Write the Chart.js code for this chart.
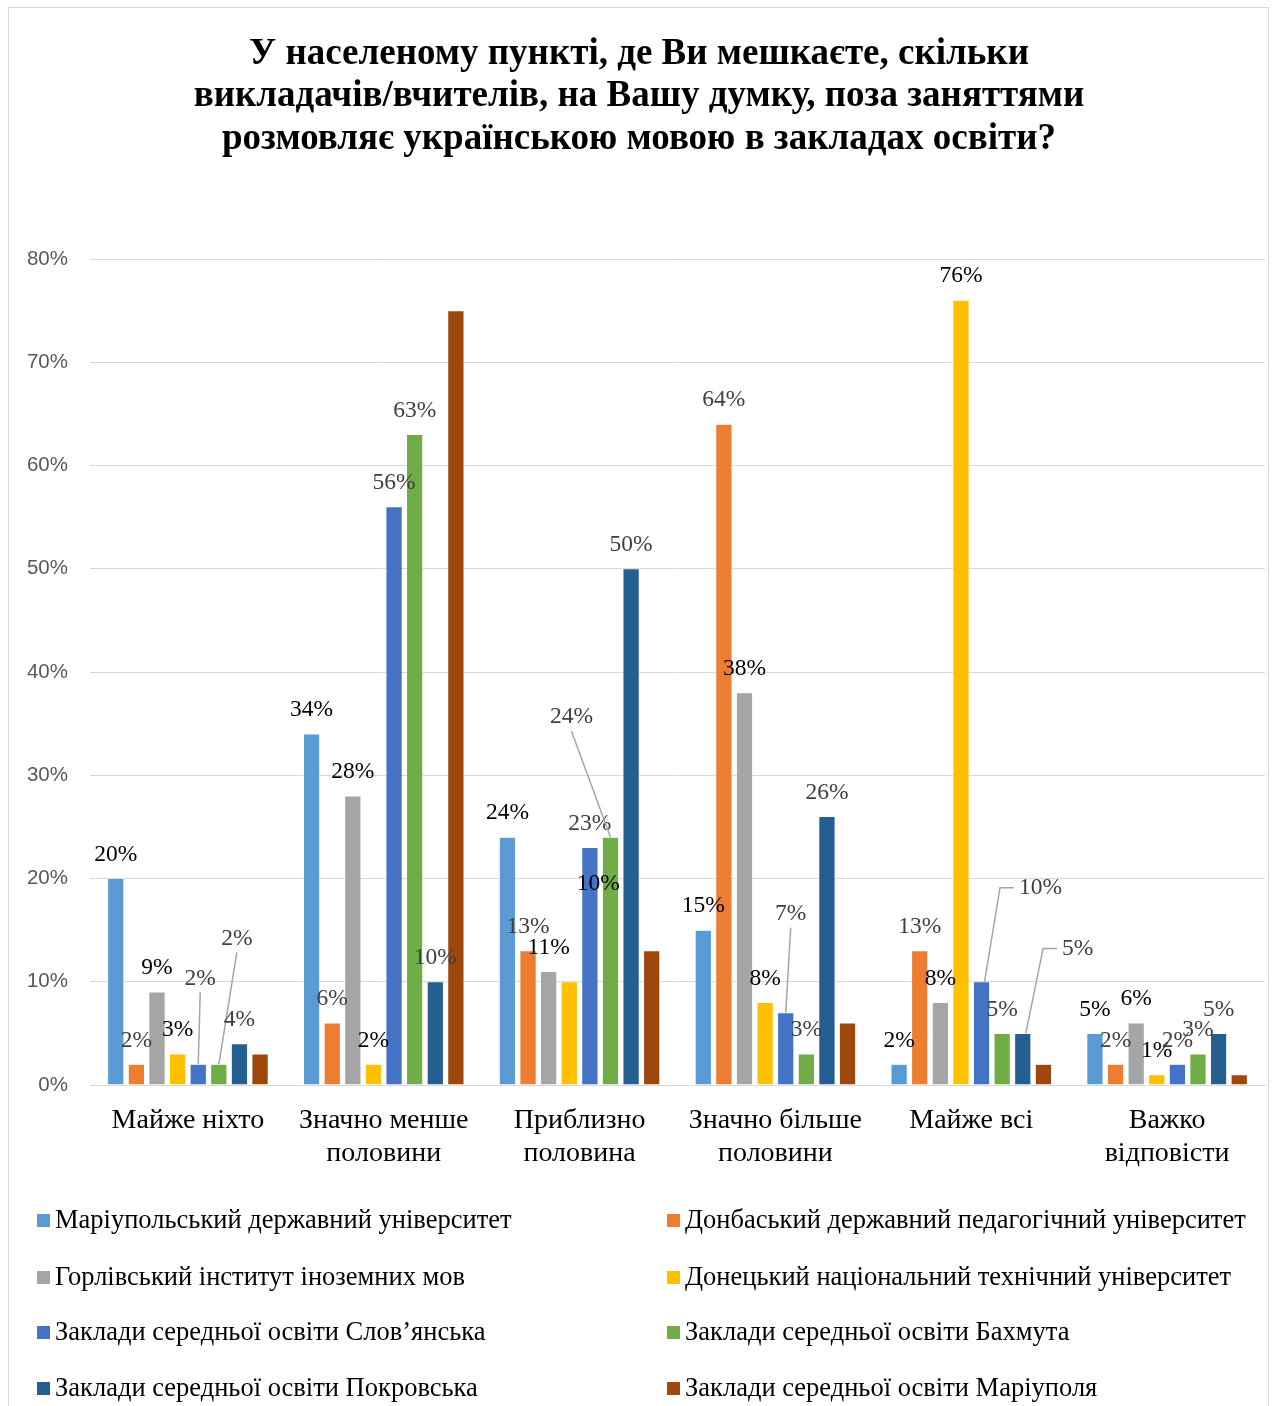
<!DOCTYPE html>
<html lang="uk">
<head>
<meta charset="utf-8">
<script src="https://cdn.jsdelivr.net/npm/chart.js@4/dist/chart.umd.min.js"></script>
<style>
  html, body { margin: 0; padding: 0; background: #fff; }
  #wrap { position: relative; width: 1275px; height: 1406px; }
</style>
</head>
<body>
<div id="wrap"><canvas id="c" width="1275" height="1406"></canvas></div>
<script>
// ---- DATA ----
const titleLines = [
  "У населеному пункті, де Ви мешкаєте, скільки",
  "викладачів/вчителів, на Вашу думку, поза заняттями",
  "розмовляє українською мовою в закладах освіти?"
];
const categories = [
  ["Майже ніхто"],
  ["Значно менше", "половини"],
  ["Приблизно", "половина"],
  ["Значно більше", "половини"],
  ["Майже всі"],
  ["Важко", "відповісти"]
];
const seriesNames = [
  "Маріупольський державний університет",
  "Донбаський державний педагогічний університет",
  "Горлівський інститут іноземних мов",
  "Донецький національний технічний університет",
  "Заклади середньої освіти Слов’янська",
  "Заклади середньої освіти Бахмута",
  "Заклади середньої освіти Покровська",
  "Заклади середньої освіти Маріуполя"
];
const mariupolUniversity   = [20, 34, 24, 15, 2, 5];
const donbasPedUniversity  = [2, 6, 13, 64, 13, 2];
const horlivkaInstitute    = [9, 28, 11, 38, 8, 6];
const donetskTechUniversity= [3, 2, 10, 8, 76, 1];
const sloviansk            = [2, 56, 23, 7, 10, 2];
const bakhmut              = [2, 63, 24, 3, 5, 3];
const pokrovsk             = [4, 10, 50, 26, 5, 5];
const mariupolSchools      = [3, 75, 13, 6, 2, 1];
const yTickValues = [0, 10, 20, 30, 40, 50, 60, 70, 80];

// ---- STYLE ----
const seriesData = [mariupolUniversity, donbasPedUniversity, horlivkaInstitute, donetskTechUniversity,
                    sloviansk, bakhmut, pokrovsk, mariupolSchools];
const colors = ["#5B9BD5", "#ED7D31", "#A5A5A5", "#FFC000", "#4472C4", "#70AD47", "#255E91", "#9E480E"];
const labelColors = ["#000000", "#404040", "#000000", "#000000", "#404040", "#404040", "#404040", null];
// moved data labels (pixel offsets from default spot) with leader lines, as in the original
const labelMoves = {
  "4-0": { dx: 2, dy: -62, leader: "line" },
  "5-0": { dx: 18, dy: -102, leader: "line" },
  "3-2": { dx: 29, dy: -74, leader: null },
  "5-2": { dx: -39, dy: -96, leader: "line" },
  "4-3": { dx: 5, dy: -75, leader: "line" },
  "4-4": { dx: 59, dy: -70, leader: "elbow" },
  "6-4": { dx: 55, dy: -61, leader: "elbow" }
};
const SERIF = "'Liberation Serif', 'DejaVu Serif', serif";
const SANS = "'Liberation Sans', Arial, sans-serif";

const decorPlugin = {
  id: "decor",
  beforeDraw(chart) {
    const ctx = chart.ctx;
    ctx.save();
    ctx.fillStyle = "#fff";
    ctx.fillRect(0, 0, chart.width, chart.height);
    ctx.strokeStyle = "#D9D9D9";
    ctx.lineWidth = 1;
    ctx.strokeRect(8.5, 7.5, 1260, 1430);
    // title
    ctx.fillStyle = "#000";
    ctx.font = "bold 37px " + SERIF;
    ctx.textAlign = "center";
    ctx.textBaseline = "middle";
    titleLines.forEach((t, i) => ctx.fillText(t, 639, 54 + i * 42.5));
    ctx.restore();
  },
  afterDatasetsDraw(chart) {
    const ctx = chart.ctx;
    ctx.save();
    ctx.font = "23.5px " + SERIF;
    ctx.textAlign = "center";
    ctx.textBaseline = "middle";
    chart.data.datasets.forEach((ds, i) => {
      if (!labelColors[i]) return;
      const meta = chart.getDatasetMeta(i);
      meta.data.forEach((bar, j) => {
        const txt = ds.data[j] + "%";
        let x = bar.x, y = bar.y - 24;
        const mv = labelMoves[i + "-" + j];
        if (mv) {
          x += mv.dx; y += mv.dy;
          ctx.strokeStyle = "#A5A5A5";
          ctx.lineWidth = 1.5;
          if (mv.leader === "line") {
            ctx.beginPath();
            ctx.moveTo(x, y + 14);
            ctx.lineTo(bar.x, bar.y);
            ctx.stroke();
          } else if (mv.leader === "elbow") {
            const tw = ctx.measureText(txt).width;
            ctx.beginPath();
            ctx.moveTo(x - tw / 2 - 5, y);
            ctx.lineTo(x - tw / 2 - 19, y);
            ctx.lineTo(bar.x + 3, bar.y);
            ctx.stroke();
          }
        }
        ctx.fillStyle = labelColors[i];
        ctx.fillText(txt, x, y);
      });
    });
    ctx.restore();
  },
  afterDraw(chart) {
    const ctx = chart.ctx;
    ctx.save();
    ctx.font = "26.5px " + SERIF;
    ctx.textBaseline = "middle";
    ctx.textAlign = "left";
    const colX = [37, 667];
    const rowY = [1221, 1278, 1333, 1389];
    seriesNames.forEach((name, i) => {
      const cx = colX[i % 2], cy = rowY[Math.floor(i / 2)];
      ctx.fillStyle = colors[i];
      ctx.fillRect(cx, cy - 7, 13, 13);
      ctx.fillStyle = "#000";
      ctx.fillText(name, cx + 18, cy);
    });
    ctx.restore();
  }
};

new Chart(document.getElementById("c"), {
  type: "bar",
  data: {
    labels: categories,
    datasets: seriesNames.map((n, i) => ({
      label: n,
      data: seriesData[i],
      backgroundColor: colors[i],
      borderColor: "rgba(255,255,255,0.6)",
      borderWidth: 0.5,
      categoryPercentage: 0.842,
      barPercentage: 0.79
    }))
  },
  options: {
    responsive: false,
    animation: false,
    devicePixelRatio: 1,
    layout: { padding: { top: 259, right: 10, bottom: 221, left: 0 } },
    plugins: { legend: { display: false }, title: { display: false }, tooltip: { enabled: false } },
    scales: {
      x: {
        grid: { display: false, drawTicks: false },
        border: { display: true, color: "#D9D9D9", width: 1 },
        ticks: { color: "#000", padding: 19, font: { family: SERIF, size: 28, lineHeight: 1.18 }, maxRotation: 0, autoSkip: false },
        afterFit(s) { s.height = 100; }
      },
      y: {
        min: 0, max: 80,
        afterBuildTicks(s) { s.ticks = yTickValues.map(v => ({ value: v })); },
        grid: { color: "#D9D9D9", drawTicks: false, lineWidth: 1 },
        border: { display: false },
        ticks: { color: "#595959", padding: 22, font: { family: SANS, size: 20.5 }, callback: v => v + "%" },
        afterFit(s) { s.width = 90; }
      }
    }
  },
  plugins: [decorPlugin]
});
</script>
</body>
</html>
